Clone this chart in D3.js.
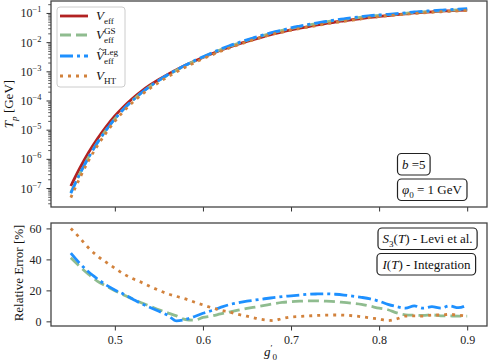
<!DOCTYPE html>
<html>
<head>
<meta charset="utf-8">
<script src="https://cdn.jsdelivr.net/npm/d3@7"></script>
<style>
body { margin: 0; background: #fff; }
svg { display: block; }
svg text { font-family: "Liberation Serif", "DejaVu Serif", serif; }
</style>
</head>
<body>
<svg width="488" height="363"></svg>
<script>
// g'_0 grid
var gVals = [0.45,0.46,0.47,0.48,0.49,0.50,0.51,0.52,0.53,0.54,
	0.55,0.56,0.57,0.58,0.59,0.60,0.61,0.62,0.63,0.64,
	0.65,0.66,0.67,0.68,0.69,0.70,0.71,0.72,0.73,0.74,
	0.75,0.76,0.77,0.78,0.79,0.80,0.81,0.82,0.83,0.84,
	0.85,0.86,0.87,0.88,0.89,0.90];

// log10 of T_p [GeV]
var logTpEff = [-6.93,-6.33,-5.79,-5.32,-4.90,-4.53,-4.21,-3.93,-3.685,-3.47,
	-3.28,-3.105,-2.945,-2.795,-2.655,-2.525,-2.40,-2.28,-2.17,-2.07,
	-1.975,-1.885,-1.80,-1.72,-1.65,-1.58,-1.52,-1.465,-1.41,-1.36,
	-1.31,-1.27,-1.23,-1.19,-1.15,-1.12,-1.09,-1.06,-1.03,-1.00,
	-0.98,-0.96,-0.94,-0.925,-0.91,-0.90];
var logTpGS = [-7.16,-6.52,-5.95,-5.45,-5.01,-4.63,-4.29,-4.00,-3.74,-3.515,
	-3.31,-3.13,-2.96,-2.80,-2.655,-2.515,-2.385,-2.26,-2.145,-2.04,
	-1.94,-1.846,-1.757,-1.674,-1.60,-1.528,-1.467,-1.411,-1.356,-1.307,
	-1.258,-1.22,-1.182,-1.145,-1.109,-1.085,-1.059,-1.037,-1.012,-0.983,
	-0.964,-0.942,-0.925,-0.91,-0.895,-0.885];
var logTpLeg = [-7.18,-6.53,-5.96,-5.46,-5.02,-4.63,-4.29,-4.00,-3.74,-3.51,
	-3.31,-3.12,-2.95,-2.79,-2.64,-2.50,-2.37,-2.24,-2.125,-2.02,
	-1.92,-1.83,-1.74,-1.66,-1.59,-1.51,-1.45,-1.395,-1.34,-1.29,
	-1.24,-1.20,-1.16,-1.13,-1.09,-1.07,-1.045,-1.02,-0.995,-0.96,
	-0.945,-0.92,-0.905,-0.885,-0.873,-0.856];
var logTpHT = [-7.33,-6.67,-6.07,-5.56,-5.11,-4.71,-4.37,-4.07,-3.81,-3.58,
	-3.38,-3.19,-3.02,-2.86,-2.71,-2.57,-2.44,-2.31,-2.20,-2.09,
	-1.99,-1.894,-1.804,-1.722,-1.658,-1.592,-1.534,-1.48,-1.427,-1.378,
	-1.328,-1.288,-1.246,-1.203,-1.16,-1.127,-1.092,-1.067,-1.045,-1.015,
	-0.995,-0.978,-0.958,-0.944,-0.928,-0.915];

// relative error [%] with respect to V_eff
var errGS = [41,35.5,30.5,26,22.8,19.8,17,14.5,12,9.8,
	7.5,5.5,3.5,1.2,0.8,2.5,3.5,4.8,6,7.2,
	8.3,9.3,10.3,11.3,12.2,12.7,13,13.2,13.2,13,
	12.7,12.2,11.7,11,9.8,8.5,7.5,5.5,4.2,4.0,
	3.8,4.2,3.6,3.5,3.4,3.4];
var errLeg = [44,37.5,32,27.5,23.5,20.3,17.5,14.5,11.5,9,
	6.5,4,0.3,1.2,3,5.2,7,9,10.8,12,
	13,13.8,14.6,15.3,16,16.5,17,17.5,17.7,17.8,
	17.5,17,16.3,15.5,14.5,13,11,9.5,8.5,10,
	8.5,9.5,8.5,10,8.8,10.6];
var errHT = [60,54,47.5,42.3,38.2,34.3,30.6,27.6,25.2,22.5,
	20,17.8,16.1,14.5,12.5,10.6,8.8,7.2,6,4.5,
	3.3,2,1,0.5,1.8,2.8,3.2,3.5,3.8,4.0,
	4.1,4.0,3.6,3.0,2.2,1.5,0.5,1.6,3.4,3.5,
	3.4,4.1,4.1,4.5,4.0,3.4];

var xTicks = [0.5, 0.6, 0.7, 0.8, 0.9];
var yTopExp = [-7, -6, -5, -4, -3, -2, -1];
var yBotTicks = [0, 20, 40, 60];

var colEff = "#b22222", colGS = "#8fbc8f", colLeg = "#1e90ff", colHT = "#d2823c";
var lw = 2.8;

var svg = d3.select("svg");
var L = 51, R = 487, topT = 1, topB = 207, botT = 223, botB = 326;

var x = d3.scaleLinear().domain([0.4275, 0.9225]).range([L, R]);
var yTop = d3.scaleLog().domain([Math.pow(10, -7.65), Math.pow(10, -0.59)]).range([topB, topT]);
var yBot = d3.scaleLinear().domain([-3, 63.5]).range([botB, botT]);

// rich text: segments {t, it, sub, sup, stack}
function rich(text, segs, size) {
	var shift = 0, subStart = 0, x0 = +text.attr("x");
	segs.forEach(function(s) {
		var target = s.sub ? 0.28 : (s.sup ? -0.42 : 0);
		var before = text.node().getComputedTextLength();
		var ts = text.append("tspan").text(s.t);
		if (s.it) ts.attr("font-style", "italic");
		if (s.sub || s.sup) ts.attr("font-size", (size * 0.7) + "px");
		if (s.stack) ts.attr("x", x0 + subStart);
		var dy = (target - shift) * size;
		if (dy) ts.attr("dy", dy);
		shift = target;
		if (s.sub) subStart = before;
	});
	return text;
}

function styleAxis(a) {
	a.attr("font-family", null).attr("font-size", null);
	a.select(".domain").remove();
	a.selectAll("line").attr("stroke", "#333");
	a.selectAll("text").attr("fill", "#222").style("font-size", "12px");
}

// ---------- top panel ----------
var gTop = svg.append("g");

// minor ticks on log axis
var minor = [];
for (var k = -8; k <= -1; k++) for (var m = 2; m <= 9; m++) {
	var v = m * Math.pow(10, k);
	if (v > yTop.domain()[0] && v < yTop.domain()[1]) minor.push(v);
}
gTop.append("g").attr("transform", "translate(" + L + ",0)")
	.call(d3.axisLeft(yTop).tickValues(minor).tickSize(2.8).tickFormat(""))
	.call(styleAxis)
	.selectAll("line").attr("stroke-width", 0.8);
var yAxTop = gTop.append("g").attr("transform", "translate(" + L + ",0)")
	.call(d3.axisLeft(yTop).tickValues(yTopExp.map(function(e) { return Math.pow(10, e); })).tickSize(4.5).tickFormat(""))
	.call(styleAxis);
yAxTop.selectAll(".tick text").remove();
yAxTop.selectAll(".tick").each(function(d, i) {
	var t = d3.select(this).append("text").attr("x", -9.5).attr("y", 4)
		.attr("fill", "#222").attr("text-anchor", "end").style("font-size", "12px");
	rich(t, [{t: "10"}, {t: "\u2212" + (-yTopExp[i]), sup: true}], 12);
});

gTop.append("g").attr("transform", "translate(0," + topB + ")")
	.call(d3.axisBottom(x).tickValues(xTicks).tickSize(4.5).tickFormat(""))
	.call(styleAxis);

var topLine = d3.line().x(function(d, i) { return x(gVals[i]); })
	.y(function(d) { return yTop(Math.pow(10, d)); }).curve(d3.curveMonotoneX);
var topSeries = [
	{vals: logTpEff, col: colEff, dash: null},
	{vals: logTpGS, col: colGS, dash: "11,5"},
	{vals: logTpLeg, col: colLeg, dash: "13,4,3,4"},
	{vals: logTpHT, col: colHT, dash: "3,5"}
];
gTop.selectAll(".tl").data(topSeries).enter().append("path")
	.attr("d", function(d) { return topLine(d.vals); })
	.attr("fill", "none").attr("stroke", function(d) { return d.col; })
	.attr("stroke-width", lw).attr("stroke-dasharray", function(d) { return d.dash; });

gTop.append("rect").attr("x", L).attr("y", topT).attr("width", R - L).attr("height", topB - topT)
	.attr("fill", "none").attr("stroke", "#444").attr("stroke-width", 1.3);

// legend
var leg = gTop.append("g");
leg.append("rect").attr("x", 57).attr("y", 7).attr("width", 68).attr("height", 80).attr("rx", 3)
	.attr("fill", "#fff").attr("fill-opacity", 0.85).attr("stroke", "#ccc").attr("stroke-width", 1);
var legItems = [
	{y: 16, col: colEff, dash: null, segs: [{t: "V", it: true}, {t: "eff", sub: true}]},
	{y: 35, col: colGS, dash: "11,5", segs: [{t: "V", it: true}, {t: "eff", sub: true}, {t: "GS", sup: true, stack: true}]},
	{y: 56, col: colLeg, dash: "13,4,3,4", segs: [{t: "V", it: true}, {t: "eff", sub: true}, {t: "Leg", sup: true, stack: true}], tilde: true},
	{y: 76, col: colHT, dash: "3,5", segs: [{t: "V", it: true}, {t: "HT", sub: true}]}
];
legItems.forEach(function(it) {
	leg.append("line").attr("x1", 60).attr("x2", 88).attr("y1", it.y).attr("y2", it.y)
		.attr("stroke", it.col).attr("stroke-width", lw).attr("stroke-dasharray", it.dash);
	var t = leg.append("text").attr("x", 96).attr("y", it.y + 4).attr("fill", "#111").style("font-size", "13px");
	rich(t, it.segs, 13);
	if (it.tilde) leg.append("path")
		.attr("d", "M98.8," + (it.y - 6.5) + " q1.4,-1.8 2.8,0 t2.8,0")
		.attr("fill", "none").attr("stroke", "#111").attr("stroke-width", 0.8);
});

// annotation boxes
function box(g, x0, yBase, segs) {
	var t = g.append("text").attr("x", x0).attr("y", yBase).attr("fill", "#111").style("font-size", "13px");
	rich(t, segs, 13);
	var b = t.node().getBBox();
	g.insert("rect", function() { return t.node(); })
		.attr("x", b.x - 4.5).attr("y", yBase - 15).attr("width", b.width + 9).attr("height", 21.5)
		.attr("rx", 4).attr("fill", "#fff").attr("stroke", "#222").attr("stroke-width", 1.2);
}
var annTop = svg.append("g");
box(annTop, 402, 168.5, [{t: "b", it: true}, {t: " =5"}]);
box(annTop, 402, 194, [{t: "\u03c6", it: true}, {t: "0", sub: true}, {t: " = 1 GeV"}]);

// ---------- bottom panel ----------
var gBot = svg.append("g");
gBot.append("g").attr("transform", "translate(" + L + ",0)")
	.call(d3.axisLeft(yBot).tickValues(yBotTicks).tickSize(4.5).tickPadding(5))
	.call(styleAxis);
gBot.append("g").attr("transform", "translate(0," + botB + ")")
	.call(d3.axisBottom(x).tickValues(xTicks).tickSize(4.5).tickPadding(5).tickFormat(d3.format(".1f")))
	.call(styleAxis);

var botLine = d3.line().x(function(d, i) { return x(gVals[i]); }).y(function(d) { return yBot(d); })
	.curve(d3.curveMonotoneX);
var botSeries = [
	{vals: errGS, col: colGS, dash: "11,5"},
	{vals: errLeg, col: colLeg, dash: "13,4,3,4"},
	{vals: errHT, col: colHT, dash: "3,5"}
];
gBot.selectAll(".bl").data(botSeries).enter().append("path")
	.attr("d", function(d) { return botLine(d.vals); })
	.attr("fill", "none").attr("stroke", function(d) { return d.col; })
	.attr("stroke-width", lw).attr("stroke-dasharray", function(d) { return d.dash; });

gBot.append("rect").attr("x", L).attr("y", botT).attr("width", R - L).attr("height", botB - botT)
	.attr("fill", "none").attr("stroke", "#444").attr("stroke-width", 1.3);

box(gBot, 382.5, 243, [{t: "S", it: true}, {t: "3", sub: true}, {t: "("}, {t: "T", it: true}, {t: ") - Levi et al."}]);
box(gBot, 382.5, 268.5, [{t: "I", it: true}, {t: "("}, {t: "T", it: true}, {t: ") - Integration"}]);

// axis labels
var yl1 = svg.append("text").attr("transform", "translate(13,104) rotate(-90)").attr("x", 0).attr("y", 0)
	.attr("text-anchor", "middle").attr("fill", "#111").style("font-size", "13px");
rich(yl1, [{t: "T", it: true}, {t: "p", it: true, sub: true}, {t: " [GeV]"}], 13);
svg.append("text").attr("transform", "translate(23,273) rotate(-90)")
	.attr("text-anchor", "middle").attr("fill", "#111").style("font-size", "13px")
	.text("Relative Error [%]");
var xl = svg.append("text").attr("x", 264).attr("y", 356).attr("fill", "#111").style("font-size", "13px");
rich(xl, [{t: "g", it: true}, {t: "\u2032", sup: true}, {t: "0", sub: true}], 13);
</script>
</body>
</html>
